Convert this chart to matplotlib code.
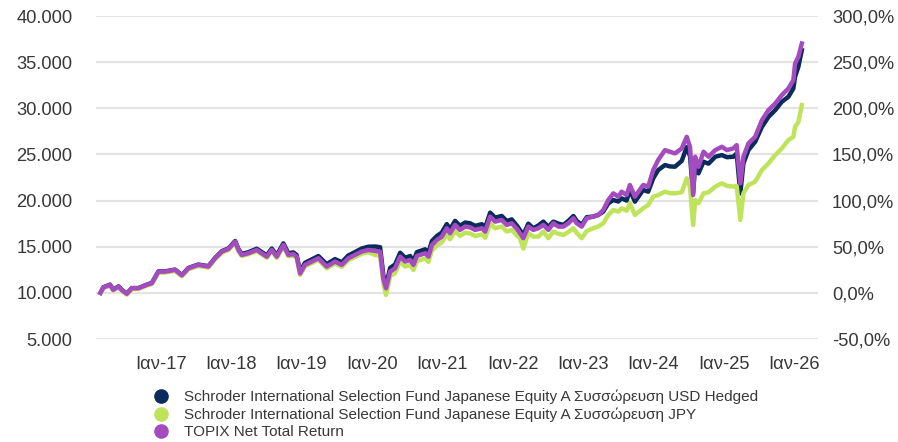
import matplotlib
matplotlib.use("Agg")
import matplotlib.pyplot as plt
from matplotlib.lines import Line2D
from matplotlib.ticker import FuncFormatter, MultipleLocator
import pandas as pd

plt.rcParams["font.family"] = ["Liberation Sans", "DejaVu Sans"]

# ── Data (growth of 10.000) ──────────────────────────────────────────────
dates = [
    "2016-03-05", "2016-03-20", "2016-04-24", "2016-05-10", "2016-06-07", "2016-06-24",
    "2016-07-20", "2016-08-15", "2016-09-18", "2016-11-01", "2016-11-27", "2016-12-31",
    "2017-02-04", "2017-03-27", "2017-05-01", "2017-06-05", "2017-07-26", "2017-09-16",
    "2017-10-21", "2017-11-25", "2017-12-29", "2018-02-02", "2018-02-19", "2018-03-08",
    "2018-04-11", "2018-05-25", "2018-06-20", "2018-07-16", "2018-08-11", "2018-09-06",
    "2018-10-10", "2018-11-05", "2018-12-01", "2018-12-18", "2019-01-05", "2019-01-30",
    "2019-03-06", "2019-04-10", "2019-05-23", "2019-07-05", "2019-08-09", "2019-09-12",
    "2019-10-17", "2019-11-20", "2019-12-25", "2020-01-29", "2020-02-24", "2020-03-12",
    "2020-03-26", "2020-04-16", "2020-05-12", "2020-06-07", "2020-07-03", "2020-07-29",
    "2020-08-15", "2020-09-02", "2020-10-15", "2020-11-01", "2020-11-19", "2020-12-15",
    "2021-01-09", "2021-02-04", "2021-02-21", "2021-03-19", "2021-04-14", "2021-05-10",
    "2021-06-05", "2021-07-01", "2021-08-05", "2021-08-22", "2021-09-17", "2021-10-13",
    "2021-11-16", "2021-12-12", "2022-01-07", "2022-02-04", "2022-02-19", "2022-03-08",
    "2022-04-03", "2022-04-29", "2022-05-25", "2022-06-20", "2022-07-16", "2022-08-11",
    "2022-09-06", "2022-10-02", "2022-10-28", "2022-11-23", "2022-12-10", "2023-01-05",
    "2023-01-31", "2023-03-06", "2023-04-01", "2023-04-27", "2023-05-23", "2023-06-18",
    "2023-07-14", "2023-07-31", "2023-08-26", "2023-09-12", "2023-10-08", "2023-11-20",
    "2023-12-16", "2024-01-11", "2024-02-06", "2024-03-12", "2024-04-07", "2024-05-03",
    "2024-06-07", "2024-07-03", "2024-07-20", "2024-08-05", "2024-08-16", "2024-09-02",
    "2024-09-28", "2024-10-24", "2024-11-28", "2025-01-01", "2025-01-27", "2025-03-02",
    "2025-03-19", "2025-04-07", "2025-04-23", "2025-05-19", "2025-06-23", "2025-07-28",
    "2025-08-31", "2025-10-05", "2025-11-08", "2025-12-12", "2026-01-07", "2026-01-16",
    "2026-02-02", "2026-02-20",
]

topix = [
    10000, 10575, 10870, 10330, 10680, 10300,
    9900, 10500, 10500, 10870, 11050, 12300,
    12300, 12490, 11900, 12670, 13030, 12850,
    13750, 14470, 14760, 15550, 14650, 14110,
    14290, 14650, 14290, 13930, 14650, 13930,
    15190, 14110, 14200, 13930, 12100, 13030,
    13390, 13750, 12850, 13390, 13030, 13750,
    14110, 14470, 14650, 14540, 14470, 11500,
    10500, 12300, 12670, 13930, 13390, 13570,
    13030, 14000, 14290, 13930, 15190, 15730,
    16090, 17000, 16460, 17360, 16820, 17180,
    17100, 16820, 17000, 16640, 18260, 17720,
    17900, 17360, 17540, 16900, 16460, 15920,
    17180, 16820, 17000, 17360, 16820, 17540,
    17180, 17180, 17540, 18080, 17540, 17180,
    18080, 18260, 18440, 18980, 20060, 20780,
    20420, 20960, 20600, 21690, 20420, 21690,
    21510, 23310, 24400, 25470, 25290, 25110,
    25650, 26910, 25800, 20600, 24750, 23670,
    25290, 24750, 25470, 25830, 25470, 25650,
    26010, 21870, 24750, 26190, 26910, 28710,
    29800, 30520, 31420, 32140, 33050, 34850,
    35570, 37020,
]

usd_hedged = [
    10000, 10600, 10890, 10350, 10700, 10320,
    9920, 10520, 10520, 10890, 11080, 12330,
    12330, 12520, 11930, 12700, 13070, 12890,
    13790, 14520, 14810, 15620, 14740, 14220,
    14400, 14780, 14420, 14070, 14800, 14080,
    15360, 14290, 14380, 14110, 12300, 13250,
    13620, 13990, 13110, 13660, 13310, 14050,
    14420, 14800, 15000, 15020, 14950, 11900,
    10800, 12700, 13080, 14350, 13800, 13990,
    13440, 14420, 14720, 14360, 15620, 16170,
    16530, 17450, 16900, 17800, 17260, 17620,
    17540, 17260, 17440, 17080, 18690, 18150,
    18330, 17790, 17960, 17250, 16800, 16280,
    17500, 17000, 17300, 17720, 17150, 17720,
    17500, 17360, 17800, 18330, 17800, 17360,
    18200, 18260, 18450, 18800, 19700, 20060,
    19900, 20240, 20000, 21150, 19880, 21150,
    20960, 22410, 23310, 23850, 23700, 23670,
    24300, 25800, 24800, 20800, 24030, 22950,
    24210, 24000, 24750, 24930, 24700, 24750,
    25110, 20780, 24030, 25470, 26370, 27990,
    29070, 29800, 30700, 31240, 32140, 33410,
    34490, 36290,
]

jpy = [
    10000, 10520, 10800, 10250, 10600, 10220,
    9800, 10420, 10420, 10790, 10970, 12200,
    12200, 12380, 11800, 12560, 12920, 12740,
    13630, 14350, 14640, 15430, 14520, 13990,
    14170, 14530, 14160, 13800, 14500, 13790,
    15040, 13960, 14050, 13780, 11950, 12870,
    13220, 13570, 12660, 13190, 12820, 13530,
    13880, 14230, 14400, 14110, 14050, 11000,
    9780, 11800, 12150, 13400, 12850, 13020,
    12480, 13450, 13720, 13360, 14600, 15120,
    15470, 16350, 15820, 16700, 16170, 16520,
    16440, 16150, 16330, 15970, 17540, 17000,
    17180, 16650, 16820, 16200, 15900, 14800,
    16460, 16100, 16090, 16640, 15920, 16640,
    16400, 16280, 16600, 17000, 16500, 15920,
    16700, 17000, 17200, 17540, 18440, 18980,
    18800, 19160, 18900, 19700, 18440, 19160,
    19520, 20420, 20600, 20960, 20800, 20780,
    20900, 22410, 21500, 17360, 20060, 19700,
    20780, 20900, 21510, 21870, 21600, 21510,
    21600, 17900, 20780, 21690, 22050, 23310,
    24030, 24930, 25650, 26550, 26910, 27990,
    28500, 30340,
]

series_labels = [
    "Schroder International Selection Fund Japanese Equity A Συσσώρευση USD Hedged",
    "Schroder International Selection Fund Japanese Equity A Συσσώρευση JPY",
    "TOPIX Net Total Return",
]
series_colors = ["#0b2b5c", "#bfe35a", "#a44bbf"]
years = list(range(2017, 2027))

# ── Figure ────────────────────────────────────────────────────────────────
x = pd.to_datetime(dates)
text_col = "#383838"

fig = plt.figure(figsize=(8.98, 4.42), dpi=100)
ax = fig.add_axes([96 / 898, 1 - 339 / 442, 722 / 898, 323 / 442])

for vals, col in zip([usd_hedged, jpy, topix], series_colors):
    ax.plot(x, vals, color=col, lw=3.2, solid_joinstyle="round", zorder=3)

ax.set_ylim(5000, 40000)
ax.set_xlim(pd.Timestamp("2016-02-11"), pd.Timestamp("2026-05-15"))
ax.yaxis.set_major_locator(MultipleLocator(5000))
ax.yaxis.set_major_formatter(FuncFormatter(lambda v, p: f"{int(v):,}".replace(",", ".")))
ax.grid(axis="y", color="#e3e3e3", lw=1.5, zorder=0)
ax.grid(axis="x", visible=False)
for s in ax.spines.values():
    s.set_visible(False)

ax.set_xticks([pd.Timestamp(f"{y}-01-12") for y in years])
ax.set_xticklabels([f"Ιαν-{str(y)[2:]}" for y in years])
ax.tick_params(axis="x", length=0, pad=12, labelsize=13.2, labelcolor=text_col)
ax.tick_params(axis="y", length=0, pad=17, labelsize=13.2, labelcolor=text_col)

ax2 = ax.twinx()
ax2.set_ylim(-50, 300)
ax2.yaxis.set_major_locator(MultipleLocator(50))
ax2.yaxis.set_major_formatter(FuncFormatter(lambda v, p: f"{v:.1f}%".replace(".", ",")))
ax2.tick_params(axis="y", length=0, pad=10, labelsize=13.2, labelcolor=text_col)
for s in ax2.spines.values():
    s.set_visible(False)

handles = [Line2D([], [], ls="none", marker="o", ms=9.5, color=c) for c in series_colors]
fig.legend(handles, series_labels, loc="upper left", bbox_to_anchor=(153 / 898, 1 - 390 / 442),
           frameon=False, fontsize=11, labelcolor=text_col, handlelength=1.0,
           handletextpad=1.0, labelspacing=0.2, borderpad=0, borderaxespad=0)

plt.savefig("out.png", dpi=100)
plt.close()
